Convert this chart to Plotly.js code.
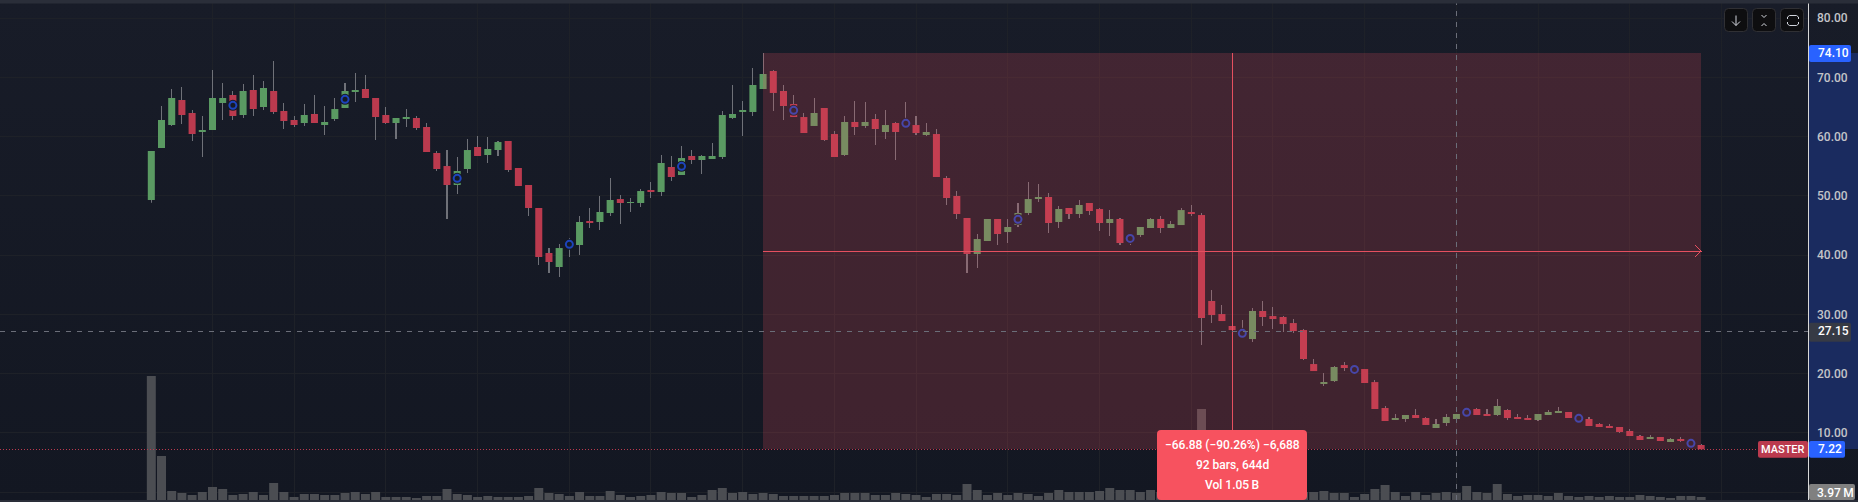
<!DOCTYPE html>
<html>
<head>
<meta charset="utf-8">
<script src="https://cdn.plot.ly/plotly-3.0.1.min.js"></script>
<style>
html,body{margin:0;padding:0;width:1858px;height:502px;overflow:hidden;background:linear-gradient(#181c28,#131722);}
#chart{width:1858px;height:502px;}
</style>
</head>
<body>
<div id="chart"></div>
<script>
const opens = [49.30,58.07,61.95,66.17,63.98,60.77,61.11,65.67,67.02,63.64,
67.86,64.99,67.69,64.32,62.80,62.29,63.81,61.95,62.97,64.82,
67.52,68.03,66.51,63.64,62.29,62.97,63.14,61.62,57.23,55.03,
51.83,54.53,58.24,56.89,57.73,59.25,54.70,51.83,47.95,40.35,
37.99,41.36,41.70,45.75,45.58,47.10,49.46,48.79,48.79,50.98,
50.65,54.87,53.52,56.72,56.05,56.22,56.55,63.14,64.15,64.15,
68.03,71.07,67.69,65.50,63.30,61.79,64.82,60.43,56.89,62.46,
61.79,62.97,60.77,62.29,62.57,61.95,60.27,60.43,53.01,49.97,
46.26,40.18,42.38,46.09,43.89,45.08,47.10,49.63,49.80,45.58,
47.95,46.93,48.79,47.77,45.41,46.09,42.48,43.39,44.57,46.09,
44.57,45.07,47.27,46.76,32.25,30.05,28.03,26.45,25.83,30.56,
29.71,29.55,28.53,27.35,21.61,18.41,18.74,21.44,21.05,20.77,
18.57,14.19,12.17,12.34,13.01,12.51,10.82,11.66,12.34,13.18,
14.03,13.18,13.01,13.86,12.68,12.51,12.17,13.01,13.35,13.52,
12.73,12.34,11.49,11.16,10.99,10.31,9.47,8.96,9.30,8.46,8.96,8.46,7.95];
const closes = [57.57,62.80,66.51,63.64,60.43,61.11,66.51,66.51,63.47,67.69,
64.65,68.20,64.15,62.63,61.95,63.64,62.29,62.46,64.65,67.69,
67.86,66.51,63.30,62.29,63.14,63.14,61.45,57.40,54.53,51.83,
54.19,57.73,56.72,57.90,59.08,54.36,51.66,47.95,39.68,38.83,
41.19,42.21,45.58,45.41,47.27,49.30,48.79,48.96,50.81,50.65,
55.54,53.18,56.38,56.05,56.72,56.72,63.64,63.81,64.32,68.71,
70.56,67.36,65.16,63.30,60.60,63.98,59.42,56.55,62.46,61.62,
62.46,61.28,61.95,60.77,61.90,60.60,60.77,53.18,49.63,46.93,
40.18,42.71,46.09,43.56,44.74,47.10,49.46,49.80,45.41,47.78,
46.93,48.45,47.44,45.41,46.09,42.04,43.16,44.74,46.09,44.57,
45.24,47.60,46.93,29.38,29.88,28.87,27.35,27.13,30.56,29.55,
29.38,28.36,27.18,22.46,20.43,18.57,21.11,20.94,20.38,18.41,
14.02,12.00,12.34,13.01,12.51,11.33,11.49,12.68,13.18,13.74,
13.01,12.84,14.53,12.51,12.34,12.17,13.18,13.52,13.52,12.51,
12.17,11.16,10.99,10.82,10.14,9.47,8.79,9.30,8.62,8.96,8.79,8.01,7.22];
const highs = [57.57,65.16,68.03,68.37,64.49,63.47,71.24,69.04,67.69,68.87,
70.39,69.38,72.76,65.67,63.47,65.50,67.02,65.16,66.51,69.04,
70.73,70.39,66.51,64.99,63.14,64.65,63.47,62.29,57.57,57.73,
56.55,59.59,60.10,59.93,59.25,59.25,54.70,51.83,47.95,41.19,
41.87,42.88,46.60,47.95,49.97,53.01,50.14,49.63,51.15,52.33,
56.89,56.72,58.41,57.73,56.89,58.92,64.32,68.71,66.00,71.57,
74.10,71.24,68.71,67.02,63.98,66.51,64.82,60.94,63.47,66.00,
65.84,63.81,64.49,62.46,65.84,63.47,62.29,61.28,53.35,50.81,
46.26,43.56,46.09,46.09,46.09,48.79,52.33,52.00,50.48,48.28,
47.95,49.29,48.79,47.94,47.60,46.25,43.50,44.74,46.25,46.59,
45.75,47.94,48.45,47.10,34.10,31.57,28.03,29.04,31.06,32.25,
31.23,29.71,29.21,27.52,22.46,20.09,21.28,21.95,21.05,20.77,
18.91,14.53,13.18,13.01,14.03,12.68,12.34,13.18,13.18,13.74,
14.19,14.03,15.71,14.03,13.18,13.01,13.18,13.86,14.36,13.52,
12.73,12.68,11.66,11.49,10.99,10.65,9.64,9.64,9.30,9.13,9.30,8.46,8.12];
const lows = [48.85,58.07,61.79,62.12,59.25,56.55,61.11,62.80,62.80,63.14,
63.47,64.49,63.81,61.28,61.62,61.79,62.29,60.27,62.63,64.82,
65.84,66.51,59.42,62.12,59.59,61.62,61.11,57.40,54.19,46.09,
50.31,53.85,56.72,55.54,56.72,54.02,51.66,46.60,38.32,36.97,
36.30,39.68,40.01,44.57,44.23,46.60,45.25,47.27,48.11,49.63,
49.97,52.50,53.52,55.37,53.68,56.22,56.22,62.97,60.10,63.47,
68.03,64.32,62.80,63.30,60.60,61.79,59.25,56.55,56.72,60.27,
61.45,58.58,59.59,56.05,61.56,60.27,60.10,53.18,48.45,46.09,
36.97,37.82,42.38,41.70,42.04,44.74,46.76,48.96,43.73,44.57,
46.09,46.25,46.76,44.06,43.22,41.70,41.70,43.05,44.57,43.72,
44.57,45.07,46.59,24.82,28.53,28.87,27.35,26.11,25.33,28.03,
27.52,27.01,26.84,22.29,20.43,17.90,18.57,20.43,20.38,18.41,
14.02,12.00,12.17,11.83,12.51,11.33,10.82,11.16,12.34,13.18,
13.01,12.84,12.84,12.17,12.34,12.17,12.00,13.01,13.35,12.51,
12.17,11.16,10.99,10.82,9.98,9.47,8.79,8.96,8.62,8.46,8.46,8.01,7.22];
// volume, millions
const volumes = [163.7,58.08,11.88,9.24,6.60,10.56,17.16,14.52,6.60,7.92,
10.56,6.60,22.44,10.56,3.97,7.92,7.92,6.60,6.60,9.24,
10.56,7.92,10.56,3.97,3.97,3.97,2.64,5.28,5.28,14.52,
7.92,6.60,3.97,5.28,3.97,3.97,3.97,5.28,15.84,9.24,
7.92,5.28,10.56,5.28,5.28,11.88,6.60,3.97,5.28,6.60,
10.56,9.24,9.24,3.97,6.60,13.20,15.84,9.24,10.56,7.92,
9.24,7.92,5.28,5.28,5.28,5.28,5.28,6.60,9.24,9.24,
9.24,6.60,6.60,9.24,7.92,6.60,3.97,7.92,7.92,6.60,
21.12,13.20,6.60,9.24,6.60,9.24,7.92,5.28,9.24,13.20,
10.56,10.56,10.56,11.88,15.84,13.20,13.20,10.56,13.20,10.56,
9.24,9.24,11.88,120.1,39.60,18.48,15.84,13.20,21.12,13.20,
10.56,10.56,10.56,10.56,10.56,11.88,9.24,9.24,3.97,7.92,
14.52,19.80,10.56,5.28,10.56,6.60,9.24,10.56,9.24,18.48,
10.56,9.24,21.12,7.92,5.28,6.60,6.60,5.28,9.24,5.28,
3.97,5.28,3.97,5.28,3.97,3.97,6.60,5.28,3.97,2.64,5.28,5.28,3.97];
const circleBars = [8,19,30,41,52,63,74,85,96,107,118,129,140,151];
const circlePrices = [65.27,66.29,52.95,41.81,54.98,64.43,62.23,46.03,42.82,26.79,20.71,13.46,12.45,8.23];
const priceTicks = [0,10,20,30,40,50,60,70,80];
const priceTickLabels = ["","10.00","20.00","30.00","40.00","50.00","60.00","70.00","80.00"];
const gridBars = [6,14,23,32,41,49,58,67,75,84,93,102,110,119,128,136,145,154];
const rangeStartBar = 60, rangeEndBar = 152, rangeMidBar = 106;
const rangeHigh = 74.10, rangeLow = 7.22, rangeMid = 40.66;
const crossBar = 128, crossPrice = 27.15;
const lastVolumeLabel = "3.97\u2009M";
const tooltipLines = ["\u221266.88 (\u221290.26%) \u22126,688","92 bars, 644d","Vol 1.05\u2009B"];

const W = 1808, H = 502;
const xIdx = closes.map((_, i) => i);
const GREEN = '#5a9a62', RED = '#ba3a4e', WICK = '#6f7178', VOL = '#4b4d52', BG = '#161a25', RING = '#1d44bc', CROSS = '#6b6e79';
const FONT = 'Roboto, sans-serif';

const px = v => v / W, py = v => 1 - v / H;
function pathOf(pts){ return pts.map((p,i)=>(i?'L':'M')+px(p[0])+' '+py(p[1])).join(' '); }
function roundBox(x0,y0,x1,y1,r,fill,line){
  const a=(x,y)=>px(x)+' '+py(y);
  const d=`M${a(x0+r,y0)} L${a(x1-r,y0)} Q${a(x1,y0)} ${a(x1,y0+r)} L${a(x1,y1-r)} Q${a(x1,y1)} ${a(x1-r,y1)} L${a(x0+r,y1)} Q${a(x0,y1)} ${a(x0,y1-r)} L${a(x0,y0+r)} Q${a(x0,y0)} ${a(x0+r,y0)} Z`;
  return {type:'path',xref:'paper',yref:'paper',path:d,fillcolor:fill,line:{width:line?1:0,color:line||fill},layer:'above'};
}
function stroke(pts,color,w){ return {type:'path',xref:'paper',yref:'paper',path:pathOf(pts),line:{color:color||'#d1d4dc',width:w||1},layer:'above'}; }
function box(x0,y0,x1,y1,fill,layer){ return {type:'rect',xref:'paper',yref:'paper',x0:px(x0),x1:px(x1),y0:py(y0),y1:py(y1),fillcolor:fill,line:{width:0},layer:layer||'above'}; }

const dash = '5px,6px';
const ARROW_X = 0.6, ARROW_Y = 1.0;
const shapes = [
  {type:'rect',xref:'paper',yref:'y',x0:px(1808),x1:px(1858),y0:rangeLow,y1:rangeHigh,fillcolor:'#1a2b5f',line:{width:0},layer:'below'},
  {type:'rect',xref:'x',yref:'y',x0:rangeStartBar,x1:rangeEndBar,y0:rangeLow,y1:rangeHigh,fillcolor:'rgba(240,80,95,0.2)',line:{width:0},layer:'above'},
  {type:'line',xref:'paper',yref:'y',x0:0,x1:1,y0:rangeLow,y1:rangeLow,line:{color:RED,width:1,dash:'1px,2px'},layer:'above'},
  {type:'line',xref:'x',yref:'y',x0:rangeStartBar,x1:rangeEndBar,y0:rangeMid,y1:rangeMid,line:{color:'#e5505f',width:1},layer:'above'},
  {type:'line',xref:'x',yref:'y',x0:rangeMidBar,x1:rangeMidBar,y0:rangeLow,y1:rangeHigh,line:{color:'#e5505f',width:1},layer:'above'},
  {type:'path',xref:'x',yref:'y',path:`M${rangeEndBar-ARROW_X} ${rangeMid+ARROW_Y} L${rangeEndBar} ${rangeMid} L${rangeEndBar-ARROW_X} ${rangeMid-ARROW_Y}`,line:{color:'#e5505f',width:1},layer:'above'},
  {type:'line',xref:'paper',yref:'y',x0:0,x1:1,y0:crossPrice,y1:crossPrice,line:{color:CROSS,width:1,dash:dash},layer:'above'},
  {type:'line',xref:'x',yref:'paper',x0:crossBar,x1:crossBar,y0:py(500),y1:py(3),line:{color:CROSS,width:1,dash:dash},layer:'above'},
  box(0,0,1858,3.6,'#2a2e39'),
  box(0,500,1858,502,'#2a2e39'),
  box(1808,3.6,1809,500,'#d8d8d8'),
  roundBox(1809,45,1851,62,2,'#2962ff'),
  roundBox(1809,322.7,1851,341.7,2,'#363a45'),
  roundBox(1758,441,1808,457.7,2,RED),
  roundBox(1809,441,1845,457.7,2,'#2962ff'),
  roundBox(1809,484,1855,500,2,'#808080'),
  roundBox(1157,430,1307,500,4,'#f7525f'),
  roundBox(1724.5,8.5,1747.5,31.5,4,'#0e0e10','#303034'),
  roundBox(1752.5,8.5,1775.5,31.5,4,'#0e0e10','#303034'),
  roundBox(1780.5,8.5,1803.5,31.5,4,'#0e0e10','#303034'),
  stroke([[1736,15.5],[1736,25.5]]),
  stroke([[1732,21.5],[1736,25.5],[1740,21.5]]),
  stroke([[1761.5,15],[1764,17.5],[1766.5,15]]),
  stroke([[1761.5,26],[1764,23.5],[1766.5,26]]),
  stroke([[1787.5,19],[1787.5,17],[1789.5,15.5],[1796.5,15.5],[1798.5,17],[1798.5,19]]),
  stroke([[1787.5,22],[1787.5,24],[1789.5,25.5],[1796.5,25.5],[1798.5,24],[1798.5,22]])
];
const CRISP_SHAPES = 8;

function tagText(x,pyVal,text,color,anchor,size){
  return {xref:'paper',yref:'paper',x:px(x),y:py(pyVal),text:text,showarrow:false,xanchor:anchor||'left',yanchor:'middle',font:{family:FONT,size:size||12,weight:500,color:color||'#ffffff'},borderpad:0};
}
function priceTag(v){ return {xref:'paper',yref:'y',x:px(1816),y:v,text:v.toFixed(2),showarrow:false,xanchor:'left',yanchor:'middle',font:{family:FONT,size:12,weight:500,color:'#ffffff'}}; }
const annotations = [
  priceTag(rangeHigh), priceTag(crossPrice), priceTag(rangeLow),
  tagText(1783,449.5,'MASTER','#ffffff','center',11),
  tagText(1816,492.5,lastVolumeLabel),
  tagText(1232,445,tooltipLines[0],'#ffffff','center'),
  tagText(1232,465,tooltipLines[1],'#ffffff','center'),
  tagText(1232,485,tooltipLines[2],'#ffffff','center')
];

const noHover = {hoverinfo:'skip',showlegend:false};
const traces = [
  Object.assign({type:'bar',name:'Wick',x:xIdx,base:lows,y:highs.map((h,i)=>h-lows[i]),width:0.01,marker:{color:WICK,line:{width:0}}},noHover),
  Object.assign({type:'bar',name:'Body',x:xIdx,base:opens.map((o,i)=>Math.min(o,closes[i])),y:opens.map((o,i)=>Math.abs(closes[i]-o)),width:0.69,
    marker:{color:opens.map((o,i)=>closes[i]>=o?GREEN:RED),line:{width:0}}},noHover),
  Object.assign({type:'bar',name:'Volume',x:xIdx,y:volumes,yaxis:'y2',width:0.88,marker:{color:VOL,line:{width:0}}},noHover),
  Object.assign({type:'scatter',mode:'markers',x:circleBars,y:circlePrices,marker:{size:11,color:BG,line:{width:0}}},noHover),
  Object.assign({type:'scatter',mode:'markers',x:circleBars,y:circlePrices,marker:{size:7,color:BG,line:{width:2,color:RING}}},noHover)
];

const layout = {
  width:1858,height:502,
  margin:{l:0,r:50,t:0,b:0,pad:0},
  paper_bgcolor:'rgba(0,0,0,0)',plot_bgcolor:'rgba(0,0,0,0)',
  barmode:'overlay',showlegend:false,hovermode:false,dragmode:false,
  xaxis:{range:[-14.84,162.48],tickmode:'array',tickvals:gridBars,showticklabels:false,ticks:'',showgrid:true,gridcolor:'#1e2128',gridwidth:1,zeroline:false,showline:false,fixedrange:true},
  yaxis:{range:[-1.67,83.05],side:'right',tickmode:'array',tickvals:priceTicks,ticktext:priceTickLabels,ticks:'',ticklabelstandoff:8,
    tickfont:{family:FONT,size:12,weight:500,color:'#c3c4c8'},showgrid:true,gridcolor:'#1e2128',gridwidth:1,zeroline:false,showline:false,fixedrange:true},
  yaxis2:{range:[-2.64,660],overlaying:'y',side:'right',visible:false,showgrid:false,zeroline:false,fixedrange:true},
  shapes:shapes,annotations:annotations
};
Plotly.newPlot('chart',traces,layout,{displayModeBar:false,responsive:false}).then(gd=>{
  gd.querySelectorAll('.shapelayer path').forEach(p=>{
    const i = +p.getAttribute('data-index');
    if(i < CRISP_SHAPES) p.style.shapeRendering = 'crispEdges';
  });
});
</script>
</body>
</html>
